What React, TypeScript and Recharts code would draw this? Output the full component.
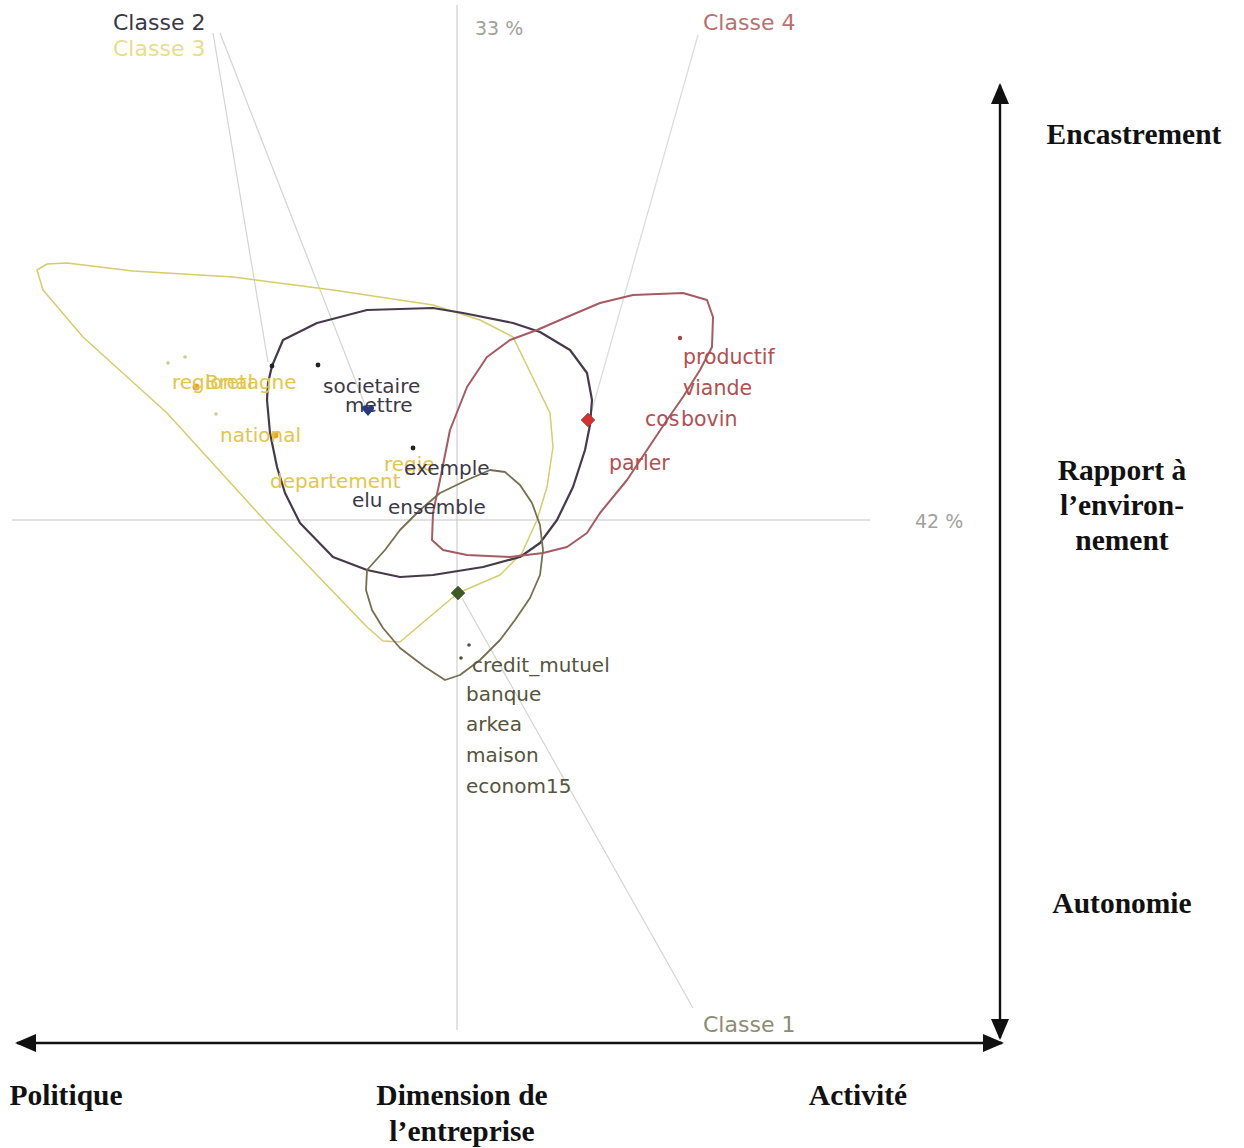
import { ComposedChart, XAxis, YAxis, Line, Scatter } from "recharts";

// factorial plane, origin at the crossing of the two axes
type P = { x: number; y: number };
type T = { x: number; y: number; label: string };
type A = { x: number; y: number; dir: string };

const classe3Loop: P[] = [
  { x: -420, y: 250 }, { x: -410, y: 256 }, { x: -390, y: 257 }, { x: -324, y: 249 },
  { x: -224, y: 243 }, { x: -124, y: 230 }, { x: -24, y: 215 }, { x: 23, y: 200 },
  { x: 56, y: 183 }, { x: 76, y: 142 }, { x: 93, y: 107 }, { x: 96, y: 73 },
  { x: 90, y: 33 }, { x: 80, y: 0 }, { x: 65, y: -33 }, { x: 43, y: -55 },
  { x: 1, y: -73 }, { x: -37, y: -105 }, { x: -57, y: -122 }, { x: -74, y: -121 },
  { x: -90, y: -107 }, { x: -190, y: -3 }, { x: -290, y: 107 }, { x: -374, y: 183 },
  { x: -414, y: 230 },
];

const classe2Loop: P[] = [
  { x: -185, y: 154 }, { x: -174, y: 180 }, { x: -140, y: 197 }, { x: -90, y: 210 },
  { x: -24, y: 212 }, { x: 6, y: 207 }, { x: 56, y: 197 }, { x: 83, y: 188 },
  { x: 113, y: 170 }, { x: 130, y: 147 }, { x: 135, y: 120 }, { x: 133, y: 95 },
  { x: 128, y: 70 }, { x: 116, y: 33 }, { x: 100, y: 0 }, { x: 83, y: -23 },
  { x: 63, y: -37 }, { x: 26, y: -47 }, { x: -24, y: -55 }, { x: -57, y: -57 },
  { x: -90, y: -50 }, { x: -124, y: -37 }, { x: -157, y: -3 }, { x: -172, y: 27 },
  { x: -180, y: 53 }, { x: -187, y: 87 }, { x: -190, y: 120 }, { x: -189, y: 137 },
];

const classe4Loop: P[] = [
  { x: -25, y: -20 }, { x: -24, y: 7 }, { x: -17, y: 40 }, { x: -7, y: 90 },
  { x: 10, y: 133 }, { x: 30, y: 163 }, { x: 53, y: 180 }, { x: 80, y: 190 },
  { x: 110, y: 203 }, { x: 143, y: 217 }, { x: 176, y: 225 }, { x: 226, y: 227 },
  { x: 250, y: 220 }, { x: 256, y: 203 }, { x: 255, y: 173 }, { x: 243, y: 150 },
  { x: 226, y: 123 }, { x: 210, y: 100 }, { x: 190, y: 70 }, { x: 170, y: 40 },
  { x: 143, y: 7 }, { x: 130, y: -13 }, { x: 110, y: -27 }, { x: 86, y: -33 },
  { x: 53, y: -37 }, { x: 10, y: -35 }, { x: -14, y: -30 },
];

const classe1Loop: P[] = [
  { x: -90, y: -50 }, { x: -72, y: -30 }, { x: -57, y: -10 }, { x: -37, y: 10 },
  { x: -17, y: 27 }, { x: 10, y: 40 }, { x: 33, y: 50 }, { x: 48, y: 48 },
  { x: 63, y: 35 }, { x: 75, y: 17 }, { x: 83, y: -5 }, { x: 86, y: -30 },
  { x: 83, y: -55 }, { x: 73, y: -78 }, { x: 58, y: -100 }, { x: 43, y: -120 },
  { x: 23, y: -140 }, { x: 3, y: -155 }, { x: -12, y: -160 }, { x: -32, y: -147 },
  { x: -57, y: -128 }, { x: -74, y: -108 }, { x: -85, y: -90 }, { x: -91, y: -70 },
];

const leader2a: P[] = [{ x: -244, y: 487 }, { x: -189, y: 158 }];
const leader2b: P[] = [{ x: -237, y: 487 }, { x: -92, y: 115 }];
const leader4: P[] = [{ x: 241, y: 485 }, { x: 135, y: 110 }];
const leader1: P[] = [{ x: 236, y: -488 }, { x: 5, y: -78 }];

const axisH: P[] = [{ x: -445, y: 0 }, { x: 413, y: 0 }];
const axisV: P[] = [{ x: 0, y: 515 }, { x: 0, y: -510 }];

const arrowH: P[] = [{ x: -440, y: -523 }, { x: 545, y: -523 }];
const arrowV: P[] = [{ x: 543, y: 435 }, { x: 543, y: -518 }];
const arrowTips: A[] = [
  { x: -442, y: -523, dir: "left" },
  { x: 547, y: -523, dir: "right" },
  { x: 543, y: 437, dir: "up" },
  { x: 543, y: -520, dir: "down" },
];

const titleC2: T[] = [{ x: -344, y: 498, label: "Classe 2" }];
const titleC3: T[] = [{ x: -344, y: 472, label: "Classe 3" }];
const titleC4: T[] = [{ x: 246, y: 498, label: "Classe 4" }];
const titleC1: T[] = [{ x: 246, y: -504, label: "Classe 1" }];
const inertia: T[] = [
  { x: 18, y: 492, label: "33 %" },
  { x: 458, y: -1, label: "42 %" },
];

const words3: T[] = [
  { x: -285, y: 138, label: "regional" },
  { x: -252, y: 138, label: "Bretagne" },
  { x: -237, y: 85, label: "national" },
  { x: -187, y: 39, label: "departement" },
  { x: -73, y: 56, label: "regie" },
];
const words2: T[] = [
  { x: -134, y: 134, label: "societaire" },
  { x: -112, y: 115, label: "mettre" },
  { x: -53, y: 52, label: "exemple" },
  { x: -105, y: 20, label: "elu" },
  { x: -69, y: 13, label: "ensemble" },
];
const words4: T[] = [
  { x: 226, y: 163, label: "productif" },
  { x: 226, y: 132, label: "viande" },
  { x: 188, y: 101, label: "cos" },
  { x: 224, y: 101, label: "bovin" },
  { x: 152, y: 57, label: "parler" },
];
const words1: T[] = [
  { x: 15, y: -145, label: "credit_mutuel" },
  { x: 9, y: -174, label: "banque" },
  { x: 9, y: -204, label: "arkea" },
  { x: 9, y: -235, label: "maison" },
  { x: 9, y: -266, label: "econom15" },
];

const poles: T[] = [
  { x: 677, y: 386, label: "Encastrement" },
  { x: 665, y: 50, label: "Rapport à" },
  { x: 665, y: 15, label: "l\u2019environ-" },
  { x: 665, y: -20, label: "nement" },
  { x: 665, y: -383, label: "Autonomie" },
  { x: -391, y: -575, label: "Politique" },
  { x: 5, y: -575, label: "Dimension de" },
  { x: 5, y: -611, label: "l\u2019entreprise" },
  { x: 401, y: -575, label: "Activité" },
];

const dots2: P[] = [{ x: -185, y: 154 }, { x: -139, y: 155 }, { x: -44, y: 72 }];
const dots3: P[] = [{ x: -289, y: 157 }, { x: -272, y: 163 }, { x: -241, y: 106 }];
const dotsOrange: P[] = [{ x: -261, y: 133 }, { x: -182, y: 85 }];
const dots4: P[] = [{ x: 223, y: 182 }];
const dots1: P[] = [{ x: 12, y: -125 }, { x: 4, y: -138 }];
const centre2: P[] = [{ x: -89, y: 110 }];
const centre4: P[] = [{ x: 131, y: 100 }];
const centre1: P[] = [{ x: 1, y: -73 }];

const SANS = "DejaVu Sans, Verdana, sans-serif";

const textShape = (fill: string, size: number, anchor = "start", family = SANS, weight = "normal") =>
  (props: any) => (
    <text
      x={props.cx}
      y={props.cy}
      fill={fill}
      fontSize={size}
      fontFamily={family}
      fontWeight={weight}
      textAnchor={anchor}
      dominantBaseline="central"
    >
      {props.payload.label}
    </text>
  );

const dotShape = (fill: string, r: number) => (props: any) => (
  <circle cx={props.cx} cy={props.cy} r={r} fill={fill} />
);

const diamondShape = (fill: string, s: number) => (props: any) => {
  const { cx, cy } = props;
  return <polygon points={`${cx},${cy - s} ${cx + s},${cy} ${cx},${cy + s} ${cx - s},${cy}`} fill={fill} stroke="#555" strokeWidth={0.6} />;
};

const heartShape = (props: any) => {
  const { cx, cy } = props;
  return (
    <path
      d={`M${cx},${cy + 6} L${cx - 6},${cy - 1} A3.2,3.2 0 0 1 ${cx},${cy - 3} A3.2,3.2 0 0 1 ${cx + 6},${cy - 1} Z`}
      fill="#26397a"
    />
  );
};

const arrowShape = (props: any) => {
  const { cx, cy, payload } = props;
  const L = 21;
  const w = 9;
  let pts = "";
  if (payload.dir === "left") pts = `${cx},${cy} ${cx + L},${cy - w} ${cx + L},${cy + w}`;
  if (payload.dir === "right") pts = `${cx},${cy} ${cx - L},${cy - w} ${cx - L},${cy + w}`;
  if (payload.dir === "up") pts = `${cx},${cy} ${cx - w},${cy + L} ${cx + w},${cy + L}`;
  if (payload.dir === "down") pts = `${cx},${cy} ${cx - w},${cy - L} ${cx + w},${cy - L}`;
  return <polygon points={pts} fill="#111" />;
};

export default function App() {
  const seg = (data: P[], stroke: string, width: number, type: any = "linear") => (
    <Line
      data={data}
      dataKey="y"
      type={type}
      stroke={stroke}
      strokeWidth={width}
      strokeLinejoin="round"
      dot={false}
      activeDot={false}
      isAnimationActive={false}
      legendType="none"
    />
  );

  return (
    <div style={{ position: "absolute", left: 0, top: 0, width: 1244, height: 1148, background: "#fff" }}>
      <ComposedChart width={1244} height={1148} margin={{ top: 0, right: 0, bottom: 0, left: 0 }}>
        <XAxis type="number" dataKey="x" domain={[-457, 787]} allowDataOverflow hide />
        <YAxis type="number" dataKey="y" domain={[-628, 520]} allowDataOverflow hide />

        {seg(leader2a, "#d4d4d4", 1.2)}
        {seg(leader2b, "#d4d4d4", 1.2)}
        {seg(leader4, "#dadada", 1.2)}
        {seg(leader1, "#d4d4d4", 1.2)}
        {seg(axisH, "#c4c4c4", 1)}
        {seg(axisV, "#c4c4c4", 1)}

        {seg(classe3Loop, "#d6cc6a", 1.5, "linearClosed")}
        {seg(classe2Loop, "#463a4a", 2.2, "linearClosed")}
        {seg(classe4Loop, "#a65a62", 2, "linearClosed")}
        {seg(classe1Loop, "#756f4e", 1.8, "linearClosed")}

        <Scatter data={dots3} shape={dotShape("#d2c890", 1.8)} isAnimationActive={false} />
        <Scatter data={dotsOrange} shape={dotShape("#eba428", 3.5)} isAnimationActive={false} />
        <Scatter data={dots2} shape={dotShape("#222", 2.4)} isAnimationActive={false} />
        <Scatter data={dots4} shape={dotShape("#a04848", 2.2)} isAnimationActive={false} />
        <Scatter data={dots1} shape={dotShape("#505040", 1.8)} isAnimationActive={false} />

        <Scatter data={words3} shape={textShape("#e2c64a", 20)} isAnimationActive={false} />
        <Scatter data={words2} shape={textShape("#3c3848", 20)} isAnimationActive={false} />
        <Scatter data={words4} shape={textShape("#b05052", 20.5)} isAnimationActive={false} />
        <Scatter data={words1} shape={textShape("#55553c", 20)} isAnimationActive={false} />

        <Scatter data={centre2} shape={heartShape} isAnimationActive={false} />
        <Scatter data={centre4} shape={diamondShape("#d83030", 7)} isAnimationActive={false} />
        <Scatter data={centre1} shape={diamondShape("#3c5a22", 7)} isAnimationActive={false} />

        <Scatter data={titleC2} shape={textShape("#3a3646", 22)} isAnimationActive={false} />
        <Scatter data={titleC3} shape={textShape("#e6de8a", 22)} isAnimationActive={false} />
        <Scatter data={titleC4} shape={textShape("#b87070", 22)} isAnimationActive={false} />
        <Scatter data={titleC1} shape={textShape("#8c8c74", 22)} isAnimationActive={false} />
        <Scatter data={inertia} shape={textShape("#a2a29a", 19)} isAnimationActive={false} />

        {seg(arrowH, "#111", 2.4)}
        {seg(arrowV, "#111", 2.4)}
        <Scatter data={arrowTips} shape={arrowShape} isAnimationActive={false} />

        <Scatter
          data={poles}
          shape={textShape("#111", 29.5, "middle", "Liberation Serif, Times New Roman, serif", "bold")}
          isAnimationActive={false}
        />
      </ComposedChart>
    </div>
  );
}
